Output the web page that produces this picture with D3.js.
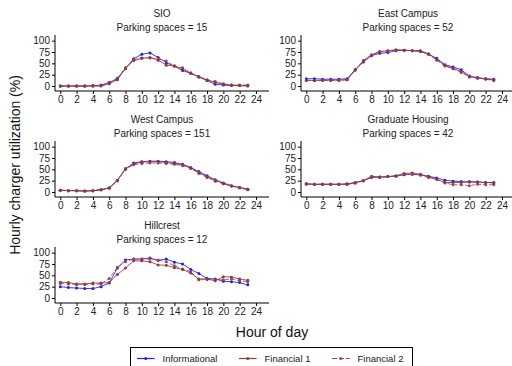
<!DOCTYPE html>
<html>
<head>
<meta charset="utf-8">
<script src="https://cdn.jsdelivr.net/npm/d3@7"></script>
<style>
  body { margin: 0; background: #fff; }
  svg { display: block; font-family: "Liberation Sans", Arial, sans-serif; }
</style>
</head>
<body>
<svg id="chart" width="512" height="366"></svg>
<script>
// hours 0..23
var hours = d3.range(0, 24);
var xTicks = d3.range(0, 25, 2);
var yTicks = [0, 25, 50, 75, 100];

var sites = ['SIO', 'East Campus', 'West Campus', 'Graduate Housing', 'Hillcrest'];
var spaces = [15, 52, 151, 42, 12];
var seriesNames = ['Informational', 'Financial 1', 'Financial 2'];

// utilization (%) per site: [Informational, Financial 1, Financial 2]
var sioInfo = [0, 0, 0, 0, 1, 2, 8, 17, 38, 60, 70, 73, 63, 51, 44, 34, 28, 20, 12, 4, 2, 1, 1, 0];
var sioFin1 = [0, 0, 0, 0, 0, 0, 5, 14, 39, 56, 61, 63, 57, 46, 44, 38, 28, 20, 13, 8, 4, 2, 1, 1];
var sioFin2 = [0, 0, 0, 0, 0, 1, 6, 15, 40, 58, 62, 62, 60, 55, 44, 40, 29, 21, 14, 10, 5, 2, 2, 2];

var eastInfo = [16, 16, 15, 15, 15, 16, 36, 53, 67, 72, 74, 78, 79, 78, 76, 70, 61, 47, 42, 36, 22, 17, 16, 15];
var eastFin1 = [13, 12, 13, 13, 13, 14, 36, 56, 69, 76, 78, 80, 79, 78, 78, 71, 59, 45, 39, 32, 21, 19, 16, 13];
var eastFin2 = [12, 12, 12, 12, 12, 14, 35, 55, 68, 75, 77, 79, 79, 78, 77, 70, 57, 44, 38, 30, 20, 18, 15, 12];

var westInfo = [4, 3, 3, 2, 3, 5, 9, 26, 50, 64, 67, 68, 68, 67, 65, 61, 54, 45, 36, 27, 20, 14, 10, 6];
var westFin1 = [4, 3, 3, 2, 3, 5, 9, 25, 52, 62, 66, 67, 67, 65, 63, 60, 53, 43, 34, 26, 19, 13, 10, 6];
var westFin2 = [4, 3, 3, 2, 3, 5, 9, 25, 51, 60, 63, 64, 64, 63, 61, 58, 52, 41, 32, 24, 18, 13, 9, 5];

var gradInfo = [18, 17, 17, 17, 17, 18, 21, 25, 32, 33, 34, 35, 38, 39, 38, 35, 31, 26, 24, 23, 22, 22, 21, 21];
var gradFin1 = [18, 17, 17, 17, 17, 17, 20, 25, 35, 33, 34, 36, 41, 42, 39, 33, 28, 21, 21, 21, 23, 22, 21, 20];
var gradFin2 = [17, 17, 17, 17, 17, 17, 20, 25, 33, 32, 34, 35, 39, 39, 37, 32, 28, 20, 16, 16, 14, 17, 16, 16];

var hillInfo = [25, 23, 22, 21, 21, 25, 33, 66, 84, 86, 86, 88, 83, 86, 79, 75, 63, 54, 43, 42, 37, 36, 34, 29];
var hillFin1 = [35, 34, 31, 31, 33, 33, 34, 52, 66, 82, 82, 80, 73, 72, 67, 63, 55, 42, 42, 38, 47, 46, 42, 39];
var hillFin2 = [32, 31, 30, 30, 31, 31, 43, 68, 80, 86, 86, 86, 84, 80, 71, 64, 58, 40, 41, 40, 40, 42, 38, 36];

var siteData = [
    [sioInfo, sioFin1, sioFin2],
    [eastInfo, eastFin1, eastFin2],
    [westInfo, westFin1, westFin2],
    [gradInfo, gradFin1, gradFin2],
    [hillInfo, hillFin1, hillFin2]
];

var colors = ['#1c1cff', '#913a3a', '#a34848'];
var dashes = [null, null, '4,2'];

var svg = d3.select('#chart');

// panel geometry
var panelW = 214, axisTop = 35, rowStep = 106;
var panelX = [55, 301];

var x = d3.scaleLinear().domain([-0.65, 25.6]).range([0, panelW]);
var y = d3.scaleLinear().domain([-11, 112.5]).range([56, 0]);

var line = d3.line().x((d, i) => x(i)).y((d) => y(d));

sites.forEach(function(name, k) {
    var col = k % 2, row = Math.floor(k / 2);
    var g = svg.append('g')
        .attr('transform', 'translate(' + panelX[col] + ',' + (axisTop + row * rowStep) + ')');

    // titles
    g.append('text').attr('x', panelW / 2).attr('y', -18.5)
        .attr('text-anchor', 'middle').attr('font-size', 10).attr('fill', '#222')
        .text(name);
    g.append('text').attr('x', panelW / 2).attr('y', -4.5)
        .attr('text-anchor', 'middle').attr('font-size', 10).attr('fill', '#222')
        .text('Parking spaces = ' + spaces[k]);

    // axes
    var xAxis = d3.axisBottom(x).tickValues(xTicks).tickSize(3).tickPadding(2);
    var yAxis = d3.axisLeft(y).tickValues(yTicks).tickSize(3).tickPadding(2);

    var gx = g.append('g').attr('transform', 'translate(0,56)').call(xAxis);
    var gy = g.append('g').call(yAxis);
    [gx, gy].forEach(function(a) {
        a.select('.domain').attr('stroke', '#000').attr('stroke-width', 1)
            .attr('d', a === gx ? 'M0,0H' + panelW : 'M0,0V56');
        a.selectAll('.tick line').attr('stroke', '#000');
        a.selectAll('.tick text').attr('font-size', 10).attr('fill', '#222')
            .attr('font-family', '"Liberation Sans", Arial, sans-serif');
    });

    // series (draw financials first, informational on top? reference shows maroon over blue)
    [0, 2, 1].forEach(function(s) {
        var vals = siteData[k][s];
        g.append('path')
            .datum(vals)
            .attr('d', line)
            .attr('fill', 'none')
            .attr('stroke', colors[s])
            .attr('stroke-width', 1)
            .attr('stroke-opacity', 0.85)
            .attr('stroke-dasharray', dashes[s]);
        g.selectAll('circle.s' + s)
            .data(vals)
            .enter().append('circle')
            .attr('class', 's' + s)
            .attr('cx', (d, i) => x(i))
            .attr('cy', (d) => y(d))
            .attr('r', 1.5)
            .attr('fill', colors[s]);
    });
});

// axis titles
svg.append('text')
    .attr('transform', 'translate(20,165) rotate(-90)')
    .attr('text-anchor', 'middle').attr('font-size', 14).attr('fill', '#111')
    .text('Hourly charger utilization (%)');
svg.append('text')
    .attr('x', 272).attr('y', 337)
    .attr('text-anchor', 'middle').attr('font-size', 14).attr('fill', '#111')
    .text('Hour of day');

// legend
var legend = svg.append('g');
legend.append('rect')
    .attr('x', 130.5).attr('y', 347.5).attr('width', 282).attr('height', 30)
    .attr('fill', '#fff').attr('stroke', '#000').attr('stroke-width', 1);

var legX = [137, 239, 332];
seriesNames.forEach(function(n, s) {
    var it = legend.append('g').attr('transform', 'translate(' + legX[s] + ',358.5)');
    it.append('line').attr('x1', 0).attr('x2', 17.5).attr('y1', 0).attr('y2', 0)
        .attr('stroke', colors[s]).attr('stroke-width', 1.2)
        .attr('stroke-dasharray', s === 2 ? '5,2' : null);
    it.append('circle').attr('cx', 8.75).attr('cy', 0).attr('r', 1.5).attr('fill', colors[s]);
    it.append('text').attr('x', 25.5).attr('y', 3.3)
        .attr('font-size', 9.5).attr('fill', '#222').text(n);
});
</script>
</body>
</html>
